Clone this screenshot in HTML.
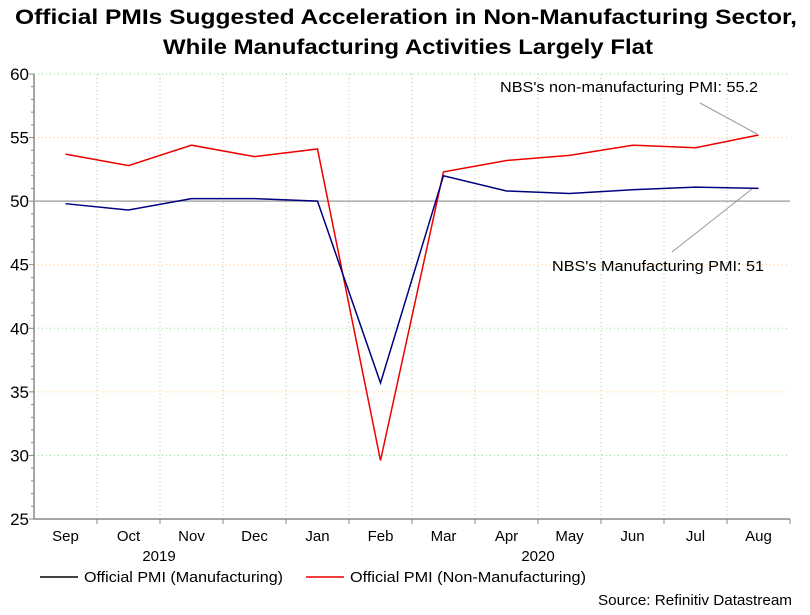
<!DOCTYPE html>
<html><head><meta charset="utf-8"><style>
body{margin:0;background:#fff;}
svg text{font-family:"Liberation Sans",Arial,sans-serif;}
</style></head><body>
<svg width="810" height="610" xmlns="http://www.w3.org/2000/svg">
<rect width="810" height="610" fill="#fff"/>
<text x="15" y="24" font-size="21" font-weight="bold" textLength="782" lengthAdjust="spacingAndGlyphs">Official PMIs Suggested Acceleration in Non-Manufacturing Sector,</text>
<text x="163" y="54" font-size="21" font-weight="bold" textLength="490" lengthAdjust="spacingAndGlyphs">While Manufacturing Activities Largely Flat</text>
<g id="grid"></g><g id="axes"></g><g id="series"></g>
<line x1="700" y1="103" x2="757" y2="134" stroke="#999"/>
<text x="500" y="92" font-size="15" textLength="258" lengthAdjust="spacingAndGlyphs">NBS's non-manufacturing PMI: 55.2</text>
<line x1="672" y1="252" x2="752" y2="189" stroke="#999"/>
<text x="552" y="271" font-size="15" textLength="212" lengthAdjust="spacingAndGlyphs">NBS's Manufacturing PMI: 51</text>
<text x="159" y="561" text-anchor="middle" font-size="15">2019</text>
<text x="538" y="561" text-anchor="middle" font-size="15">2020</text>
<line x1="40" y1="577" x2="78" y2="577" stroke="#000" stroke-width="1.5"/>
<text x="84" y="582" font-size="15" textLength="199" lengthAdjust="spacingAndGlyphs">Official PMI (Manufacturing)</text>
<line x1="306" y1="577" x2="344" y2="577" stroke="#e00" stroke-width="1.5"/>
<text x="350" y="582" font-size="15" textLength="236" lengthAdjust="spacingAndGlyphs">Official PMI (Non-Manufacturing)</text>
<text x="598" y="605" font-size="15" textLength="194" lengthAdjust="spacingAndGlyphs">Source: Refinitiv Datastream</text>
</svg>
<script>
const categories=["Sep","Oct","Nov","Dec","Jan","Feb","Mar","Apr","May","Jun","Jul","Aug"];
const mfg=[49.8,49.3,50.2,50.2,50.0,35.7,52.0,50.8,50.6,50.9,51.1,51.0];
const nonMfg=[53.7,52.8,54.4,53.5,54.1,29.6,52.3,53.2,53.6,54.4,54.2,55.2];
const yTicks=[25,30,35,40,45,50,55,60];
const NS="http://www.w3.org/2000/svg";
const L=34,R=790,T=74,B=519,yMin=25,yMax=60;
const bw=(R-L)/categories.length;
const x=i=>L+bw*(i+0.5);
const y=v=>B-(v-yMin)/(yMax-yMin)*(B-T);
function mk(tag,attrs,parent){const e=document.createElementNS(NS,tag);for(const k in attrs)e.setAttribute(k,attrs[k]);document.getElementById(parent).appendChild(e);return e;}
yTicks.forEach(t=>{
 if(t>yMin){const g=mk('line',{x1:L,x2:R,y1:y(t),y2:y(t),stroke:t%10===0?'#9c9':'#ec9','stroke-dasharray':'1 3'},'grid');
 
 }
 const tx=mk('text',{x:L-5,y:y(t)+6,'text-anchor':'end','font-size':17},'axes');tx.textContent=t;
 
 
});
for(let v=yMin;v<=yMax;v++){const tk=mk('line',{x1:L-(v%5===0?5:3),x2:L,y1:y(v),y2:y(v),stroke:'#888'},'axes');
 
 }
categories.forEach((c,i)=>{
 const gx=L+bw*(i+1);
 if(i<categories.length-1){const g=mk('line',{x1:gx,x2:gx,y1:T,y2:B,stroke:'#9c9','stroke-dasharray':'1 3'},'grid');
 
 }
 const tk=mk('line',{x1:gx,x2:gx,y1:B,y2:B+5,stroke:'#888'},'axes');
 
 
 const t=mk('text',{x:x(i),y:B+22,'text-anchor':'middle','font-size':15},'axes');t.textContent=c;
 
 
});
const ax=mk('path',{d:`M${L} ${T}V${B}H${R}`,stroke:'#888','stroke-width':1.5,fill:'none'},'axes');


const ref=mk('line',{x1:L,x2:R,y1:y(50),y2:y(50),stroke:'#aaa','stroke-width':1.5},'axes');


const p1=mk('polyline',{points:nonMfg.map((v,i)=>x(i)+','+y(v)).join(' '),fill:'none',stroke:'#e00','stroke-width':1.5},'series');


const p2=mk('polyline',{points:mfg.map((v,i)=>x(i)+','+y(v)).join(' '),fill:'none',stroke:'#000080','stroke-width':1.5},'series');


</script>
</body></html>
